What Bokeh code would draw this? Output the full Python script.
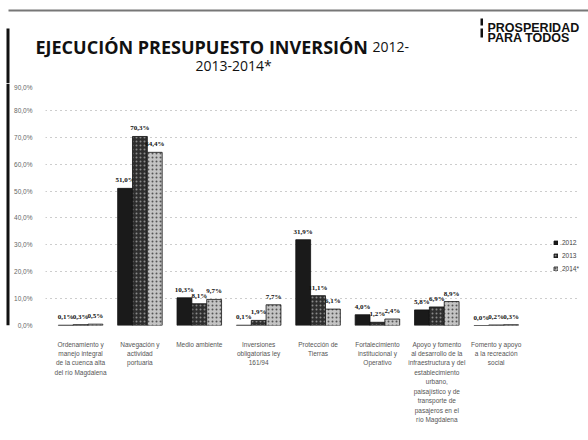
from bokeh.plotting import figure
from bokeh.layouts import column, row
from bokeh.models import ColumnDataSource, FixedTicker, Legend, LegendItem
from bokeh.core.properties import value
from bokeh.embed import file_html
from bokeh.resources import INLINE

categories = [
    "Ordenamiento y\nmanejo integral\nde la cuenca alta\ndel río Magdalena",
    "Navegación y\nactividad\nportuaria",
    "Medio ambiente",
    "Inversiones\nobligatorias ley\n161/94",
    "Protección de\nTierras",
    "Fortalecimiento\ninstitucional y\nOperativo",
    "Apoyo y fomento\nal desarrollo de la\ninfraestructura y del\nestablecimiento\nurbano,\npaisajístico y de\ntransporte de\npasajeros en el\nrío Magdalena",
    "Fomento y apoyo\na la recreación\nsocial",
]
series_names = ["2012", "2013", "2014*"]
v2012 = [0.1, 51.0, 10.3, 0.1, 31.9, 4.0, 5.8, 0.0]
v2013 = [0.3, 70.3, 8.1, 1.9, 11.1, 1.2, 6.9, 0.2]
v2014 = [0.5, 64.4, 9.7, 7.7, 6.1, 2.4, 8.9, 0.3]
y_ticks = [0, 10, 20, 30, 40, 50, 60, 70, 80, 90]
title_main = "EJECUCIÓN PRESUPUESTO INVERSIÓN"
title_years1 = "2012-"
title_years2 = "2013-2014*"
logo_lines = ["PROSPERIDAD", "PARA TODOS"]


def blank(fig):
    fig.axis.visible = False
    fig.grid.visible = False
    fig.outline_line_color = None
    fig.background_fill_color = "white"
    fig.border_fill_color = "white"
    return fig


# ---- header strip ----
TOP_H = 83
top = blank(figure(width=588, height=TOP_H, x_range=(0, 588), y_range=(TOP_H, 0),
                   output_backend="svg", toolbar_location=None, min_border=0))
top.quad(left=[8], right=[588], top=[9], bottom=[11], fill_color="#777777", line_color=None)
top.quad(left=[6], right=[9], top=[28], bottom=[TOP_H], fill_color="#111111", line_color=None)
top.text(x=[35], y=[46], text=[title_main], text_font=value("Open Sans"),
         text_font_size="18px", text_font_style="bold", text_color="#111111",
         text_baseline="alphabetic")
top.text(x=[372], y=[46], text=[title_years1], text_font=value("Open Sans"),
         text_font_size="14px", text_color="#111111", text_baseline="alphabetic")
top.text(x=[195], y=[65], text=[title_years2], text_font=value("Open Sans"),
         text_font_size="14px", text_color="#111111", text_baseline="alphabetic")
top.text(x=[487, 487], y=[27, 37], text=logo_lines, text_font=value("Liberation Sans"),
         text_font_size="12.5px", text_font_style="bold", text_color="#111111",
         text_baseline="alphabetic")
top.quad(left=[480, 480], right=[482.5, 482.5], top=[18, 28], bottom=[25, 37],
         fill_color="#111111", line_color=None)

# ---- left border strip ----
MAIN_H = 440 - TOP_H
left = blank(figure(width=10, height=MAIN_H, x_range=(0, 10), y_range=(MAIN_H, 0),
                    output_backend="svg", toolbar_location=None, min_border=0))
left.quad(left=[6], right=[9], top=[0], bottom=[MAIN_H], fill_color="#111111", line_color=None)

# ---- main chart ----
p = figure(width=578, height=MAIN_H, x_range=(0.41, 9.42), y_range=(0, 90),
           output_backend="svg", toolbar_location=None,
           min_border_left=35, min_border_right=8, min_border_top=0, min_border_bottom=115)
p.outline_line_color = None
p.background_fill_color = "white"
p.border_fill_color = "white"

xs = list(range(1, len(categories) + 1))
offsets = [-0.25, 0.0, 0.25]
fills = ["#1a1a1a", "#2e2e2e", "#c4c4c4"]
hatches = [" ", "dot", "dot"]
hatch_cols = ["#1a1a1a", "#8a8a8a", "#555555"]
series = [v2012, v2013, v2014]
renderers = []
for k, vals in enumerate(series):
    src = ColumnDataSource(dict(
        x=[x + offsets[k] for x in xs], top=vals,
        lab=[("%.1f" % v).replace(".", ",") + "%" for v in vals]))
    r = p.vbar(x="x", top="top", width=0.25, source=src, fill_color=fills[k],
               line_color="#111111", line_width=0.8,
               hatch_pattern=hatches[k], hatch_color=hatch_cols[k], hatch_scale=4)
    renderers.append(r)
    p.text(x="x", y="top", text="lab", source=src, text_align="center",
           text_baseline="bottom", y_offset=-4, text_font_size="7px",
           text_font_style="bold", text_color="#111111",
           text_font=value("Liberation Serif"))

p.yaxis.ticker = FixedTicker(ticks=y_ticks)
p.yaxis.major_label_overrides = {t: ("%.1f" % t).replace(".", ",") + "%" for t in y_ticks}
p.yaxis.axis_line_color = None
p.yaxis.major_tick_line_color = None
p.yaxis.minor_tick_line_color = None
p.yaxis.major_label_text_font_size = "6.5px"
p.yaxis.major_label_text_color = "#666666"
p.yaxis.major_label_standoff = 7

p.xaxis.ticker = FixedTicker(ticks=xs)
p.xaxis.major_label_overrides = {x: c for x, c in zip(xs, categories)}
p.xaxis.axis_line_color = None
p.xaxis.major_tick_line_color = None
p.xaxis.minor_tick_line_color = None
p.xaxis.major_label_text_font_size = "6.5px"
p.xaxis.major_label_text_color = "#555555"
p.xaxis.major_label_standoff = 9
p.xaxis.major_label_text_line_height = 1.35

p.xgrid.grid_line_color = None
p.ygrid.ticker = FixedTicker(ticks=y_ticks)
p.ygrid.grid_line_color = "#9a9a9a"
p.ygrid.grid_line_dash = "1 4"
p.ygrid.grid_line_width = 1

items = [LegendItem(label=n, renderers=[r]) for n, r in zip(series_names, renderers)]
leg = Legend(items=items, location=(508, 53), background_fill_alpha=0,
             border_line_color=None, label_text_font_size="6.5px",
             label_text_color="#444444", glyph_width=5, glyph_height=5,
             label_height=8, spacing=5, padding=2, label_standoff=4)
p.add_layout(leg, "center")

layout = column(top, row(left, p, spacing=0), spacing=0)

out = file_html(layout, INLINE)
open("out.html", "w").write(out)
